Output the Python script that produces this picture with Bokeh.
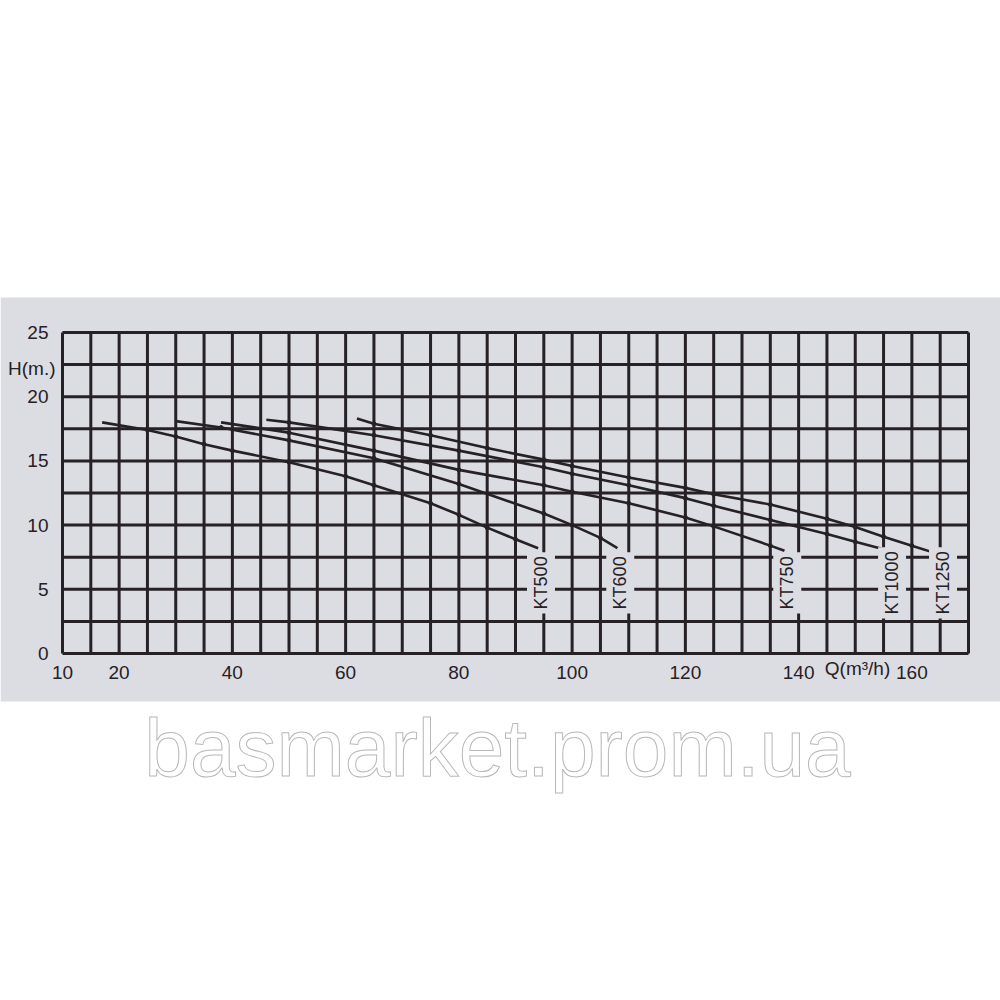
import math
from bokeh.plotting import figure
from bokeh.models import FixedTicker, Label, BoxAnnotation, Range1d
from bokeh.embed import file_html
from bokeh.resources import INLINE

# ---- data ----
q_range = [10, 170]
h_range = [0, 25]
x_tick_labels = [10, 20, 40, 60, 80, 100, 120, 140, 160]
y_tick_labels = [0, 5, 10, 15, 20, 25]
x_grid_lines = list(range(10, 171, 5))
y_grid_lines = [i * 2.5 for i in range(11)]

kt500_q = [17, 25, 30, 35, 40, 50, 60, 65, 75, 80, 85, 90, 94]
kt500_h = [18.0, 17.4, 16.9, 16.3, 15.8, 14.9, 13.8, 13.1, 11.7, 10.8, 9.8, 8.9, 8.2]

kt600_q = [30, 38, 50, 65, 80, 95, 100, 105, 108]
kt600_h = [18.1, 17.6, 16.6, 15.2, 13.2, 10.9, 10.0, 9.0, 8.2]

kt750_q = [38, 50, 65, 80, 95, 100, 110, 120, 125, 135, 137.5]
kt750_h = [18.0, 17.2, 15.8, 14.3, 13.1, 12.6, 11.7, 10.6, 9.9, 8.4, 8.0]

kt1000_q = [46, 50, 65, 80, 95, 100, 110, 120, 125, 135, 145, 150, 156]
kt1000_h = [18.2, 18.0, 17.0, 15.8, 14.5, 14.0, 13.1, 12.1, 11.5, 10.4, 9.3, 8.7, 8.0]

kt1250_q = [62, 65, 75, 85, 95, 100, 110, 120, 125, 135, 145, 150, 155, 160, 165]
kt1250_h = [18.3, 17.9, 17.0, 16.0, 15.1, 14.6, 13.7, 12.9, 12.4, 11.6, 10.5, 9.85, 9.1, 8.4, 7.7]

series_names = ["KT500", "KT600", "KT750", "KT1000", "KT1250"]
series_q = [kt500_q, kt600_q, kt750_q, kt1000_q, kt1250_q]
series_h = [kt500_h, kt600_h, kt750_h, kt1000_h, kt1250_h]

y_title = "H(m.)"
x_title = "Q(m³/h)"
watermark = "basmarket.prom.ua"

# ---- layout (pixels) ----
W, H = 1000, 1000
GX0, GX1 = 62, 968      # grid left / right in px
GY0, GY1 = 653, 332     # grid bottom / top in px
kx = (GX1 - GX0) / (q_range[1] - q_range[0])
ky = (GY0 - GY1) / (h_range[1] - h_range[0])


def qx(px):
    return q_range[0] + (px - GX0) / kx


def hy(py):
    return h_range[0] + (GY0 - py) / ky


PAPER = "#dcdce3"
INK = "#262124"
FONT = "Liberation Sans"

p = figure(width=W, height=H, output_backend="svg", toolbar_location=None,
           title_location=None,
           x_range=Range1d(qx(0), qx(W)), y_range=Range1d(hy(H), hy(0)),
           min_border=0)
p.background_fill_color = "white"
p.border_fill_color = "white"
p.outline_line_color = None
p.xgrid.visible = False
p.ygrid.visible = False

# photographed paper band
p.add_layout(BoxAnnotation(left=qx(0), right=qx(W), top=hy(297), bottom=hy(701),
                           fill_color=PAPER, fill_alpha=1.0, line_color=None,
                           level="underlay"))

# grid
p.segment(x0=x_grid_lines, y0=[h_range[0]] * len(x_grid_lines),
          x1=x_grid_lines, y1=[h_range[1]] * len(x_grid_lines),
          line_color=INK, line_width=3)
p.segment(x0=[q_range[0]] * len(y_grid_lines), y0=y_grid_lines,
          x1=[q_range[1]] * len(y_grid_lines), y1=y_grid_lines,
          line_color=INK, line_width=3)

# axes positioned at the grid edges
p.xaxis.fixed_location = h_range[0]
p.yaxis.fixed_location = q_range[0]
p.xaxis.ticker = FixedTicker(ticks=x_tick_labels)
p.yaxis.ticker = FixedTicker(ticks=y_tick_labels)
for ax in (p.xaxis, p.yaxis):
    ax.axis_line_color = None
    ax.major_tick_line_color = None
    ax.minor_tick_line_color = None
    ax.major_label_text_font = FONT
    ax.major_label_text_font_size = "19px"
    ax.major_label_text_color = INK
p.xaxis.major_label_standoff = 6
p.yaxis.major_label_standoff = 8

for name, qs, hs in zip(series_names, series_q, series_h):
    p.line(qs, hs, line_color=INK, line_width=2.6)
    p.scatter(qs[1:-1], hs[1:-1], size=4, color=INK)
    p.add_layout(Label(x=qs[-1] + 0.5, y=5.5, text=name, angle=math.pi / 2,
                       text_align="center", text_baseline="middle",
                       text_font=FONT, text_font_size="18px", text_color=INK,
                       background_fill_color=PAPER, background_fill_alpha=1.0,
                       padding=4))

p.add_layout(Label(x=qx(55), y=hy(368), text=y_title, text_align="right",
                   text_baseline="middle", text_font=FONT,
                   text_font_size="19px", text_color=INK))
p.add_layout(Label(x=qx(857), y=hy(668), text=x_title, text_align="center",
                   text_baseline="middle", text_font=FONT,
                   text_font_size="19px", text_color=INK))
p.add_layout(Label(x=qx(497), y=hy(747), text=watermark, text_align="center",
                   text_baseline="alphabetic", text_font=FONT,
                   text_font_size="82px", text_color="white",
                   text_outline_color="#b8b8b8"))

open("out.html", "w").write(file_html(p, INLINE))
